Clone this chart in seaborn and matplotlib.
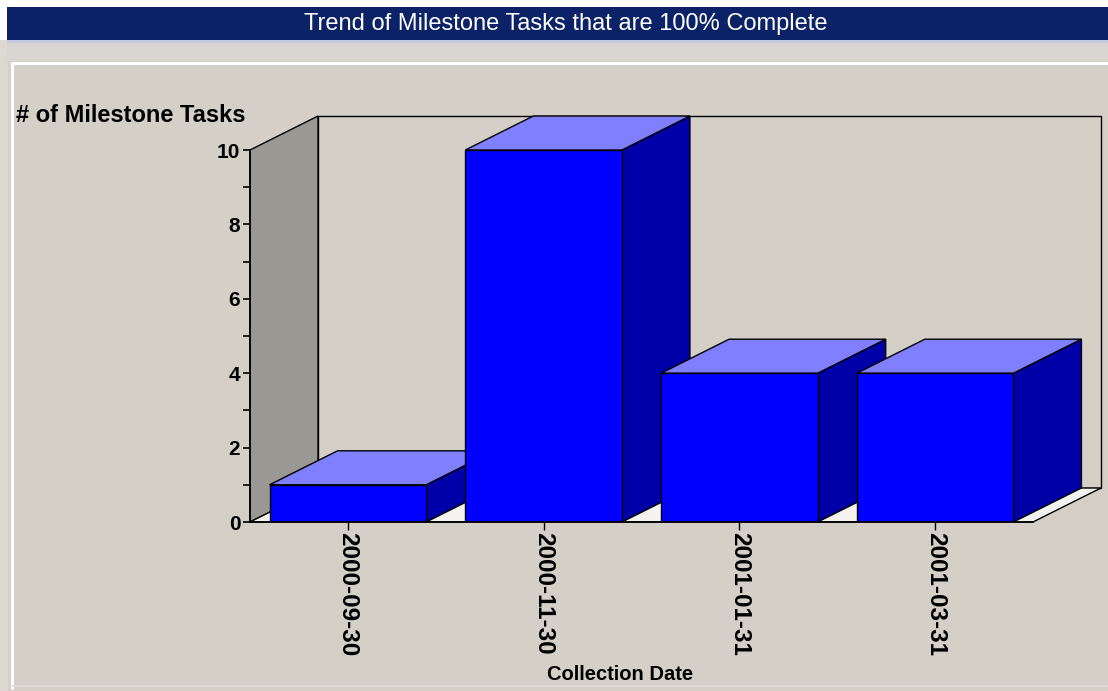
import matplotlib
matplotlib.use("Agg")
import matplotlib.pyplot as plt
from matplotlib.patches import Polygon, Rectangle
from matplotlib.lines import Line2D
import seaborn as sns
import pandas as pd

# Data
dates = ["2000-09-30", "2000-11-30", "2001-01-31", "2001-03-31"]
tasks = [1, 10, 4, 4]

title = "Trend of Milestone Tasks that are 100% Complete"
y_label = "# of Milestone Tasks"
x_label = "Collection Date"

BG = "#d4d0c8"
FRONT = "#0000ff"
TOP = "#8080ff"
SIDE = "#0000a8"
WALL = "#9a9892"
FLOOR = "#f4f3f0"

sns.set_theme(style="white")
plt.rcParams["font.family"] = ["Liberation Sans", "DejaVu Sans"]

W, H = 1108, 691
fig = plt.figure(figsize=(W / 100, H / 100), dpi=100, facecolor=BG, edgecolor=BG,
                 linewidth=0)

def fx(px):
    return px / W

def fy(py):
    return 1 - py / H

# Window chrome: title bar and panel highlight lines
fig.patches.append(Rectangle((0, fy(7)), 1, 1 - fy(7), transform=fig.transFigure,
                             facecolor="white", edgecolor="none", zorder=0))
fig.patches.append(Rectangle((0, fy(40)), fx(7), fy(7) - fy(40), transform=fig.transFigure,
                             facecolor="white", edgecolor="none", zorder=0))
fig.patches.append(Rectangle((0, 0), fx(8), fy(40), transform=fig.transFigure,
                             facecolor="#dcd9d3", edgecolor="none", zorder=0))
fig.patches.append(Rectangle((fx(7), fy(40)), 1 - fx(7), fy(7) - fy(40),
                             transform=fig.transFigure, facecolor="#0b2266",
                             edgecolor="none", zorder=1))
fig.patches.append(Rectangle((fx(7), fy(43)), 1 - fx(7), fy(40) - fy(43),
                             transform=fig.transFigure, facecolor="#c4cade",
                             edgecolor="none", zorder=1))
fig.patches.append(Rectangle((fx(7), fy(61)), 1 - fx(7), fy(43) - fy(61),
                             transform=fig.transFigure, facecolor="#d9d5d0",
                             edgecolor="none", zorder=1))
fig.patches.append(Rectangle((fx(1104), 0), 1 - fx(1104), fy(65),
                             transform=fig.transFigure, facecolor=BG,
                             edgecolor="none", zorder=1))
fig.lines.append(Line2D([fx(12), 1], [fy(63), fy(63)], transform=fig.transFigure,
                        color="white", lw=2.2, zorder=2))
fig.lines.append(Line2D([fx(12), fx(12)], [fy(63), fy(688)], transform=fig.transFigure,
                        color="white", lw=2.2, zorder=2))
fig.lines.append(Line2D([fx(12), 1], [fy(686), fy(686)], transform=fig.transFigure,
                        color="#e2dfda", lw=1.2, zorder=2))

fig.text(fx(566), fy(24), title, color="white", fontsize=17, ha="center",
         va="center", zorder=3)

# Plot area: front plane of the 3D box
ax_left, ax_right, ax_top, ax_bot = 250, 1033, 150, 522
ax = fig.add_axes([fx(ax_left), fy(ax_bot), fx(ax_right - ax_left), fy(ax_top) - fy(ax_bot)])
ax.set_facecolor("none")
ax.set_zorder(5)

df = pd.DataFrame({"date": dates, "tasks": tasks})
sns.barplot(data=df, x="date", y="tasks", color=FRONT, saturation=1, width=0.8,
            edgecolor="black", linewidth=1.0, ax=ax)

x0, x1 = -0.5, len(dates) - 0.5
ymax = 10
ax.set_xlim(x0, x1)
ax.set_ylim(0, ymax)

# Depth offset of the box in data units (right and up)
px_per_x = (ax_right - ax_left) / (x1 - x0)
px_per_y = (ax_bot - ax_top) / ymax
DX = 68 / px_per_x
DY = 34 / px_per_y

edge = dict(edgecolor="black", linewidth=1.0, clip_on=False, joinstyle="miter")
# Back wall
ax.add_patch(Polygon([(x0 + DX, DY), (x1 + DX, DY), (x1 + DX, ymax + DY), (x0 + DX, ymax + DY)],
                     facecolor=BG, zorder=0.5, **edge))
# Left side wall
ax.add_patch(Polygon([(x0, 0), (x0 + DX, DY), (x0 + DX, ymax + DY), (x0, ymax)],
                     facecolor=WALL, zorder=0.6, **edge))
# Floor
ax.add_patch(Polygon([(x0, 0), (x1, 0), (x1 + DX, DY), (x0 + DX, DY)],
                     facecolor=FLOOR, zorder=0.6, **edge))

# Top and side faces of each bar
for i, bar in enumerate(ax.patches[:len(dates)]):
    bx = bar.get_x()
    bw = bar.get_width()
    bh = bar.get_height()
    z = 3 + i * 0.1
    ax.add_patch(Polygon([(bx + bw, 0), (bx + bw + DX, DY), (bx + bw + DX, bh + DY), (bx + bw, bh)],
                         facecolor=SIDE, zorder=z, **edge))
    ax.add_patch(Polygon([(bx, bh), (bx + bw, bh), (bx + bw + DX, bh + DY), (bx + DX, bh + DY)],
                         facecolor=TOP, zorder=z, **edge))
    bar.set_zorder(z + 0.05)

for s in ["top", "right"]:
    ax.spines[s].set_visible(False)
for s in ["left", "bottom"]:
    ax.spines[s].set_color("black")
    ax.spines[s].set_linewidth(1.2)
    ax.spines[s].set_zorder(5)

ax.set_yticks(range(0, 11, 2))
ax.set_yticks(range(1, 11, 2), minor=True)
ax.tick_params(axis="y", which="both", direction="inout", length=10, width=1.2,
               color="black", left=True, labelsize=15, labelcolor="black", pad=2)
ax.tick_params(axis="x", which="major", direction="out", length=6, width=1.0,
               color="black", bottom=True, labelsize=17.5, labelcolor="black", pad=1)
for lab in ax.get_yticklabels():
    lab.set_fontweight("bold")
for lab in ax.get_xticklabels():
    lab.set_fontweight("bold")
    lab.set_rotation(-90)
    lab.set_va("top")
    lab.set_ha("center")

ax.set_xlabel("")
ax.set_ylabel("")
fig.text(fx(16), fy(116), y_label, fontsize=17, fontweight="bold", ha="left",
         va="center", color="black")
fig.text(fx(620), fy(675), x_label, fontsize=14.5, fontweight="bold", ha="center",
         va="center", color="black")

fig.savefig("out.png", dpi=100, facecolor=BG, edgecolor=BG)
